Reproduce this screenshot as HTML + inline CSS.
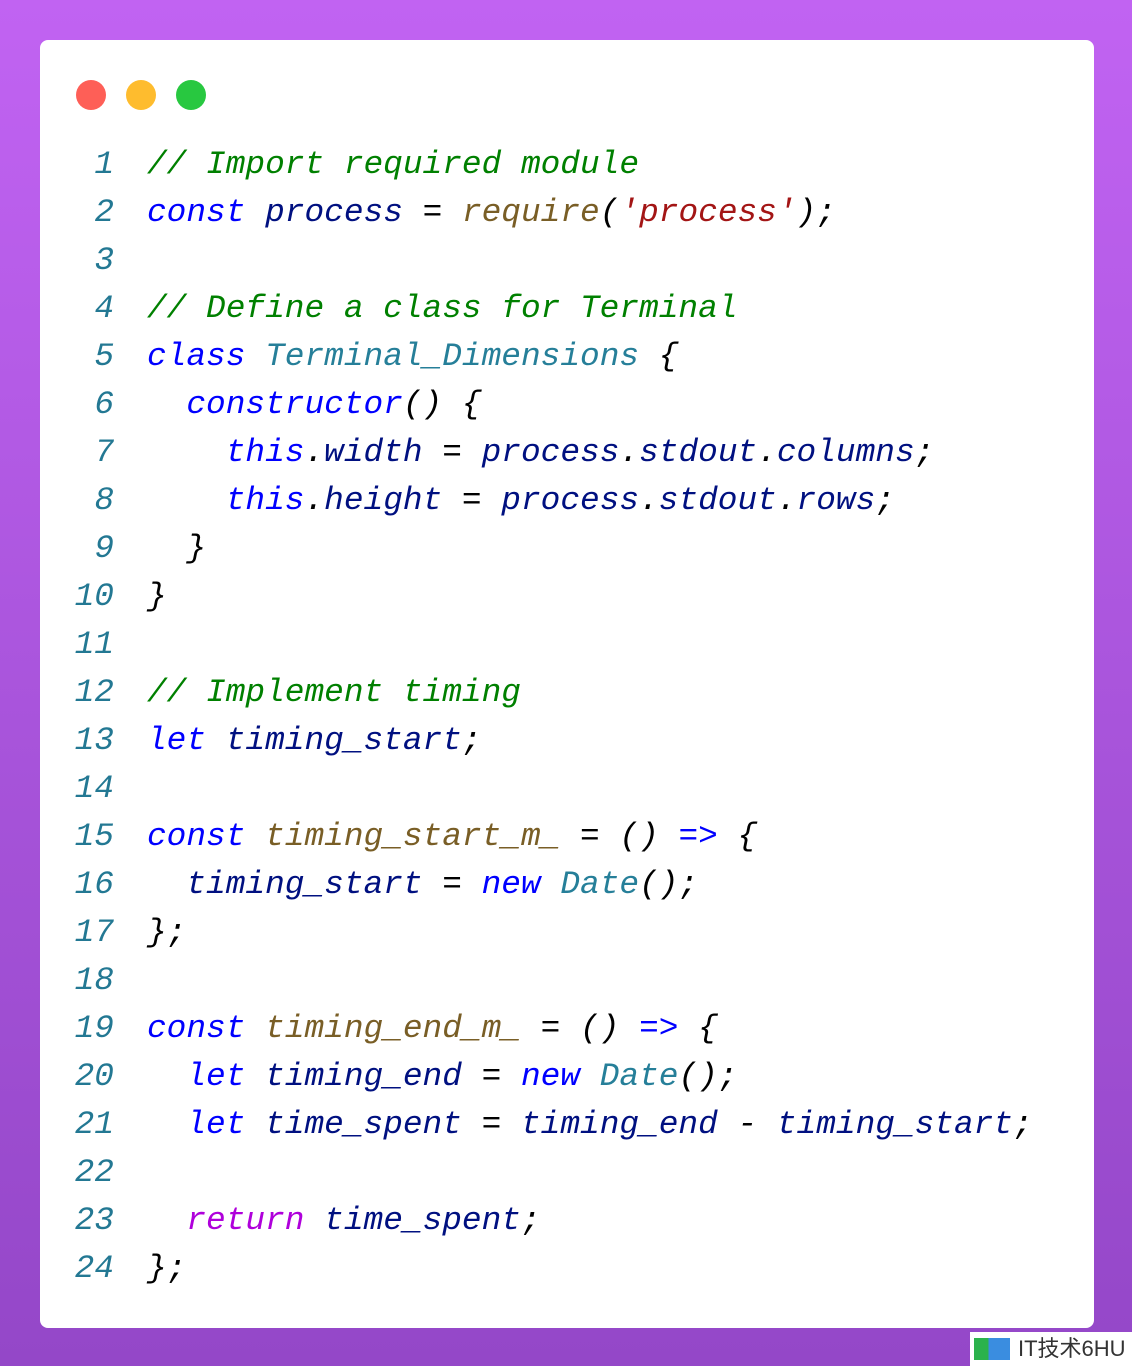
<!DOCTYPE html>
<html><head><meta charset="utf-8"><style>
body{margin:0;width:1132px;height:1366px;background:linear-gradient(180deg,#c163f2 0%,#a552d8 60%,#9447c8 100%);position:relative;overflow:hidden;font-family:"Liberation Sans",sans-serif}
.card{position:absolute;left:40px;top:40px;width:1054px;height:1288px;background:#fff;border-radius:8px}
.dot{position:absolute;top:80px;width:30px;height:30px;border-radius:50%}
pre{position:absolute;left:0;top:141px;margin:0;font-family:"Liberation Mono",monospace;font-style:italic;font-size:32.8px;line-height:48px;color:#000}
.ln{display:inline-block;width:114px;text-align:right;color:#237893;margin-right:33px}
.c{color:#008000}.k{color:#0000ff}.v{color:#001080}.f{color:#795e26}.s{color:#a31515}.t{color:#267f99}.r{color:#af00db}
.wm{position:absolute;left:970px;top:1332px;width:162px;height:34px;background:#fff;font-size:22px;color:#333;line-height:34px;padding-left:48px;box-sizing:border-box;font-family:"Liberation Sans","Noto Sans CJK SC",sans-serif}
.wm i{position:absolute;left:4px;top:6px;width:36px;height:22px;background:linear-gradient(90deg,#2bb24c 40%,#3a8de0 40%)}
</style></head><body>
<div class="card"></div>
<div class="dot" style="left:76px;background:#fe5f57"></div>
<div class="dot" style="left:126px;background:#febc2e"></div>
<div class="dot" style="left:176px;background:#28c840"></div>
<pre><span class="ln">1</span><span class="c">// Import required module</span>
<span class="ln">2</span><span class="k">const</span> <span class="v">process</span> = <span class="f">require</span>(<span class="s">'process'</span>);
<span class="ln">3</span>
<span class="ln">4</span><span class="c">// Define a class for Terminal</span>
<span class="ln">5</span><span class="k">class</span> <span class="t">Terminal_Dimensions</span> {
<span class="ln">6</span>  <span class="k">constructor</span>() {
<span class="ln">7</span>    <span class="k">this</span>.<span class="v">width</span> = <span class="v">process</span>.<span class="v">stdout</span>.<span class="v">columns</span>;
<span class="ln">8</span>    <span class="k">this</span>.<span class="v">height</span> = <span class="v">process</span>.<span class="v">stdout</span>.<span class="v">rows</span>;
<span class="ln">9</span>  }
<span class="ln">10</span>}
<span class="ln">11</span>
<span class="ln">12</span><span class="c">// Implement timing</span>
<span class="ln">13</span><span class="k">let</span> <span class="v">timing_start</span>;
<span class="ln">14</span>
<span class="ln">15</span><span class="k">const</span> <span class="f">timing_start_m_</span> = () <span class="k">=&gt;</span> {
<span class="ln">16</span>  <span class="v">timing_start</span> = <span class="k">new</span> <span class="t">Date</span>();
<span class="ln">17</span>};
<span class="ln">18</span>
<span class="ln">19</span><span class="k">const</span> <span class="f">timing_end_m_</span> = () <span class="k">=&gt;</span> {
<span class="ln">20</span>  <span class="k">let</span> <span class="v">timing_end</span> = <span class="k">new</span> <span class="t">Date</span>();
<span class="ln">21</span>  <span class="k">let</span> <span class="v">time_spent</span> = <span class="v">timing_end</span> - <span class="v">timing_start</span>;
<span class="ln">22</span>
<span class="ln">23</span>  <span class="r">return</span> <span class="v">time_spent</span>;
<span class="ln">24</span>};</pre>
<div class="wm"><i></i>IT技术6HU</div>
</body></html>
